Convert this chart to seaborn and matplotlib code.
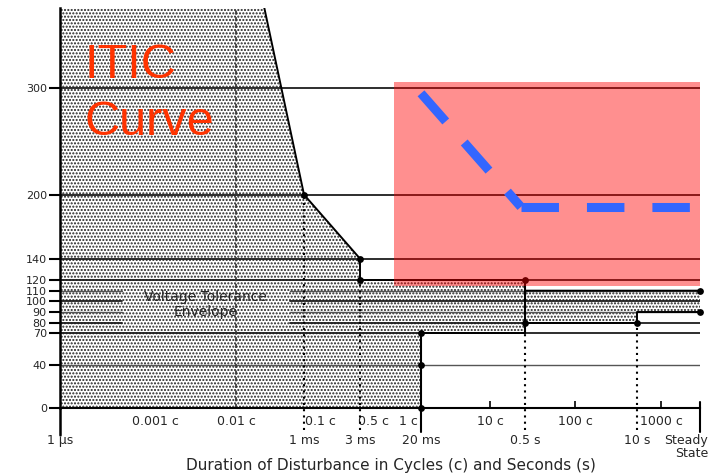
import numpy as np
import matplotlib
matplotlib.use("Agg")
import matplotlib.pyplot as plt
import seaborn as sns
from matplotlib.transforms import ScaledTranslation

CYCLE = 1 / 60          # seconds per cycle at 60 Hz
STEADY = 100.0          # duration used for the "steady state" end of the axis
YMAX = 375

# Vertical axis: percent of nominal voltage
VOLT_TICKS = [0, 40, 70, 80, 90, 100, 110, 120, 140, 200, 300]

# Horizontal axis: duration in seconds, and in cycles
TIME_TICKS = [1e-6, 1e-3, 3e-3, 20e-3, 0.5, 10, STEADY]
TIME_LABELS = ["1 µs", "1 ms", "3 ms", "20 ms", "0.5 s", "10 s", "Steady\nState"]
CYCLE_COUNTS = [0.001, 0.01, 0.1, 0.5, 1, 10, 100, 1000]
CYCLE_LABELS = ["0.001 c", "0.01 c", "0.1 c", "0.5 c", "1 c", "10 c", "100 c", "1000 c"]

# Upper (overvoltage) boundary of the tolerance envelope
UPPER_T = [0.01 * CYCLE, 1e-3, 3e-3, 3e-3, 0.5, 0.5, STEADY]
UPPER_V = [500, 200, 140, 120, 120, 110, 110]
# Lower (undervoltage) boundary
LOWER_T = [1e-6, 20e-3, 20e-3, 0.5, 0.5, 10, 10, STEADY]
LOWER_V = [0, 0, 70, 70, 80, 80, 90, 90]

# Corner points of the envelope
MARK_T = [1e-3, 3e-3, 3e-3, 0.5, 20e-3, 20e-3, 20e-3, 0.5, 10, STEADY, STEADY]
MARK_V = [200, 140, 120, 120, 70, 40, 0, 80, 80, 110, 90]

# Highlighted region and overlay curve
ZONE_T = [10e-3, STEADY]
ZONE_V = [114, 306]
OVER_T = [0.02, 0.44, STEADY]
OVER_V = [295, 188.5, 188.5]

# Stretched logarithmic duration axis (break points of the scale)
AXIS_TIMES = [1e-6, 0.001 * CYCLE, 0.01 * CYCLE, 1e-3, 0.1 * CYCLE, 3e-3,
              CYCLE, 20e-3, 10 * CYCLE, 0.5, 100 * CYCLE, 10, 1000 * CYCLE, STEADY]
AXIS_STOPS = [0, 95, 176, 244, 260, 300, 348, 361, 430, 465, 515, 577, 601, 640]
LOG_KNOTS = np.log10(AXIS_TIMES)
POS_KNOTS = np.array(AXIS_STOPS, dtype=float)


def forward(t):
    t = np.asarray(t, dtype=float)
    return np.interp(np.log10(np.clip(t, 1e-12, None)), LOG_KNOTS, POS_KNOTS)


def inverse(p):
    return 10 ** np.interp(np.asarray(p, dtype=float), POS_KNOTS, LOG_KNOTS)


sns.set_style("white")
plt.rcParams["font.family"] = ["DejaVu Sans"]
plt.rcParams["hatch.linewidth"] = 1.0

fig = plt.figure(figsize=(7.08, 4.75), dpi=100)
ax = fig.add_axes([60 / 708, 1 - 408 / 475, 640 / 708, 400 / 475])
ax.set_xscale("function", functions=(forward, inverse))

# Stippled tolerance envelope
env_t = [1e-6] + UPPER_T + LOWER_T[::-1]
env_v = [500] + UPPER_V + LOWER_V[::-1]
ax.fill(env_t, env_v, facecolor="white", edgecolor="#222222", hatch=".....",
        linewidth=0, zorder=1)

# Horizontal reference lines at every voltage level
gap = (0.097, 0.359)
for v in VOLT_TICKS[1:]:
    thin = v in (110, 90, 40)
    kw = dict(color="#555555" if thin else "#1e1e1e", lw=1.0 if thin else 1.3, zorder=2)
    if v in (80, 90, 100, 110):
        ax.axhline(v, 0, gap[0], **kw)
        ax.axhline(v, gap[1], 1, **kw)
    else:
        ax.axhline(v, 0, 1, **kw)

# Envelope boundaries
sns.lineplot(x=UPPER_T, y=UPPER_V, ax=ax, estimator=None, sort=False,
             color="black", linewidth=1.4, zorder=3)
sns.lineplot(x=LOWER_T, y=LOWER_V, ax=ax, estimator=None, sort=False,
             color="black", linewidth=1.4, zorder=3)

dotted = dict(color="black", lw=1.5, linestyle=(0, (1, 2)), clip_on=False, zorder=3)
solid = dict(color="black", lw=1.5, clip_on=False, zorder=3)
below = -0.055
ax.axvline(0.01 * CYCLE, 0, 1, color="#333333", lw=1.2, linestyle=(0, (2.5, 1.5)), zorder=2)
ax.axvline(1e-3, below, 200 / YMAX, **dotted)
ax.axvline(3e-3, below, 120 / YMAX, **dotted)
ax.axvline(20e-3, -0.06, 70 / YMAX, **solid)
ax.axvline(0.5, 70 / YMAX, 120 / YMAX, **solid)
ax.axvline(0.5, below, 70 / YMAX, **dotted)
ax.axvline(10, below, 80 / YMAX, **dotted)
ax.axvline(STEADY, -0.06, 0.015, **solid)
ax.axvline(1e-6, -0.0675, 0, color="black", lw=1.8, clip_on=False, zorder=3)

sns.scatterplot(x=MARK_T, y=MARK_V, ax=ax, color="black", s=24, linewidth=0,
                zorder=4, clip_on=False)

# Highlighted zone and overlay curve
ax.fill_between(ZONE_T, ZONE_V[0], ZONE_V[1], color="#ff0000", alpha=0.44,
                linewidth=0, zorder=5)
for i in range(len(OVER_T) - 1):
    sns.lineplot(x=OVER_T[i:i + 2], y=OVER_V[i:i + 2], ax=ax, estimator=None,
                 sort=False, color="#3366ff", linewidth=6.5,
                 linestyle=(0, (4.15, 3.1)), dash_capstyle="butt", zorder=6)

# Annotations
ax.text(0.039, 0.825, "ITIC", transform=ax.transAxes, color="#ff3300",
        fontsize=35, family=["Liberation Sans"], va="baseline", ha="left", zorder=7)
ax.text(0.039, 0.6825, "Curve", transform=ax.transAxes, color="#ff3300",
        fontsize=35, family=["Liberation Sans"], va="baseline", ha="left", zorder=7)
ax.text(0.228, 97, "Voltage Tolerance\nEnvelope", transform=ax.get_yaxis_transform(),
        ha="center", va="center", fontsize=10, linespacing=1.05, zorder=7)

# Axes
ax.set_xlim(1e-6, STEADY)
ax.set_ylim(0, YMAX)
ax.set_yticks(VOLT_TICKS)
ax.set_yticklabels([str(v) for v in VOLT_TICKS])
ax.tick_params(axis="y", length=8, width=1.5, pad=1.5, labelsize=8, color="black",
               left=True)

ax.set_xticks(TIME_TICKS)
ax.set_xticklabels(TIME_LABELS)
ax.set_xticks([c * CYCLE for c in CYCLE_COUNTS], minor=True)
ax.set_xticklabels(CYCLE_LABELS, minor=True)
ax.tick_params(axis="x", which="major", length=0, pad=19, labelsize=9)
ax.tick_params(axis="x", which="minor", direction="in", length=5, width=1.2,
               pad=5, labelsize=9, bottom=True, color="black")
ax.xaxis.get_minor_ticks()[3].tick1line.set_visible(False)

for lab in ax.get_xticklabels():
    if lab.get_text().startswith("Steady"):
        lab.set_multialignment("right")
        lab.set_linespacing(0.95)
        lab.set_transform(lab.get_transform() + ScaledTranslation(-0.14, 0, fig.dpi_scale_trans))
for lab in ax.get_xticklabels(minor=True):
    if lab.get_text() == "0.5 c":
        lab.set_transform(lab.get_transform() + ScaledTranslation(-0.15, 0, fig.dpi_scale_trans))

for side in ("top", "right"):
    ax.spines[side].set_visible(False)
ax.spines["left"].set_linewidth(1.8)
ax.spines["bottom"].set_linewidth(1.5)
ax.spines["left"].set_color("black")
ax.spines["bottom"].set_color("black")

ax.set_xlabel("Duration of Disturbance in Cycles (c) and Seconds (s)", fontsize=11)
ax.xaxis.set_label_coords(0.517, -0.125)
ax.set_ylabel("")

fig.savefig("out.png", dpi=100)
